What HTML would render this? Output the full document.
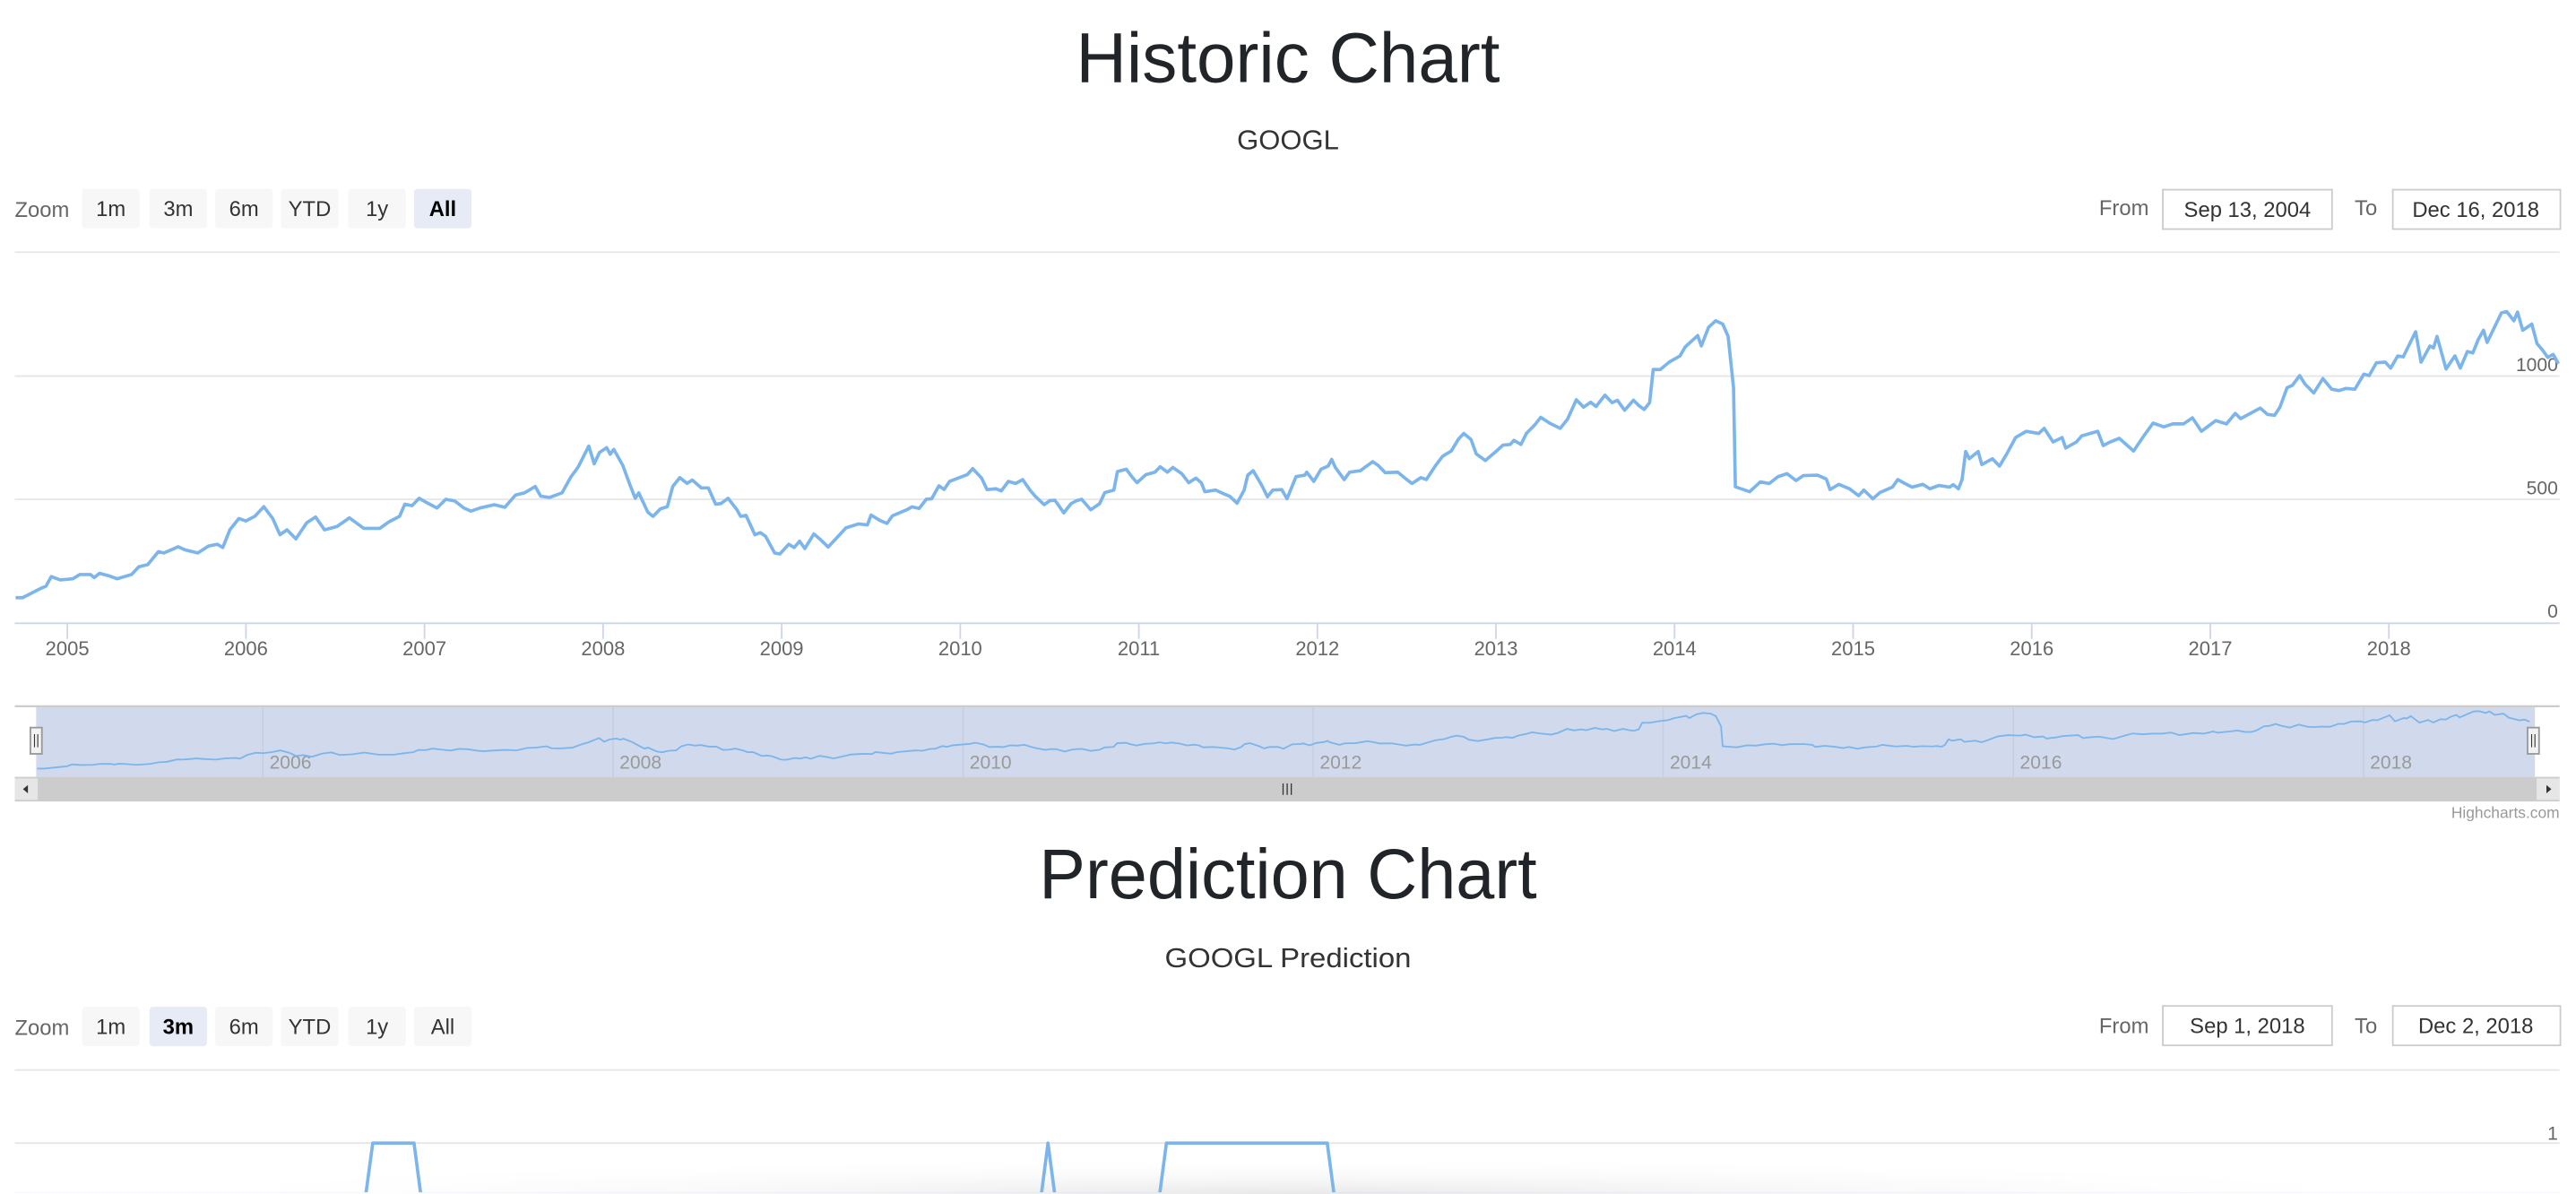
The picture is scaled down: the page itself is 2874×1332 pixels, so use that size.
<!DOCTYPE html>
<html><head><meta charset="utf-8">
<style>
html,body{margin:0;padding:0;background:#fff;width:2874px;height:1332px;overflow:hidden}
svg{display:block}
text{font-family:"Liberation Sans",sans-serif}
</style></head>
<body>
<svg id="root" width="2874" height="1332" viewBox="0 0 1568 727" preserveAspectRatio="none" xmlns="http://www.w3.org/2000/svg">
<defs>
<radialGradient id="shadow" cx="0.5" cy="1" r="0.6">
<stop offset="0" stop-color="#e8e8e8"/><stop offset="1" stop-color="#ffffff" stop-opacity="0"/>
</radialGradient>
<clipPath id="histClip"><rect x="9" y="153" width="1549" height="227"/></clipPath>
<clipPath id="navClip"><rect x="22" y="430" width="1521" height="43"/></clipPath>
<clipPath id="predClip"><rect x="9" y="652" width="1549" height="74"/></clipPath>
</defs>

<text x="784" y="50" text-anchor="middle" font-size="43" fill="#212529" textLength="258" lengthAdjust="spacingAndGlyphs">Historic Chart</text>
<text x="784" y="91" text-anchor="middle" font-size="16.5" fill="#333" textLength="62" lengthAdjust="spacingAndGlyphs">GOOGL</text>

<g>
<text x="9" y="132" font-size="13" fill="#666">Zoom</text>
<g id="histButtons"></g>
<text x="1308" y="131" font-size="13" fill="#666" text-anchor="end">From</text>
<rect x="1316.5" y="115.5" width="103" height="24" fill="#fff" stroke="#ccc"/>
<text x="1368" y="132" font-size="13" fill="#333" text-anchor="middle">Sep 13, 2004</text>
<text x="1447" y="131" font-size="13" fill="#666" text-anchor="end">To</text>
<rect x="1456.5" y="115.5" width="102" height="24" fill="#fff" stroke="#ccc"/>
<text x="1507" y="132" font-size="13" fill="#333" text-anchor="middle">Dec 16, 2018</text>
</g>

<g id="histChart"></g>

<text x="1558" y="498" font-size="9.5" fill="#999" text-anchor="end">Highcharts.com</text>

<text x="784" y="547" text-anchor="middle" font-size="43" fill="#212529" textLength="303" lengthAdjust="spacingAndGlyphs">Prediction Chart</text>
<text x="784" y="589" text-anchor="middle" font-size="16.5" fill="#333" textLength="150" lengthAdjust="spacingAndGlyphs">GOOGL Prediction</text>

<g>
<text x="9" y="630" font-size="13" fill="#666">Zoom</text>
<g id="predButtons"></g>
<text x="1308" y="629" font-size="13" fill="#666" text-anchor="end">From</text>
<rect x="1316.5" y="612.5" width="103" height="24" fill="#fff" stroke="#ccc"/>
<text x="1368" y="629" font-size="13" fill="#333" text-anchor="middle">Sep 1, 2018</text>
<text x="1447" y="629" font-size="13" fill="#666" text-anchor="end">To</text>
<rect x="1456.5" y="612.5" width="102" height="24" fill="#fff" stroke="#ccc"/>
<text x="1507" y="629" font-size="13" fill="#333" text-anchor="middle">Dec 2, 2018</text>
</g>

<rect x="170" y="690" width="1230" height="37" fill="url(#shadow)"/>
<g id="predChart"></g>
</svg>

<script>
// ---- Historic data (decimal year, price) ----
const histYears = [2004.71,2004.75,2004.85,2004.88,2004.91,2004.96,2005.03,2005.07,2005.13,2005.15,2005.18,2005.23,2005.28,2005.36,2005.40,2005.45,2005.51,2005.54,2005.59,2005.62,2005.66,2005.73,2005.79,2005.84,2005.87,2005.91,2005.96,2006.00,2006.05,2006.10,2006.15,2006.19,2006.23,2006.28,2006.34,2006.39,2006.44,2006.51,2006.58,2006.66,2006.75,2006.80,2006.86,2006.89,2006.93,2006.97,2007.01,2007.07,2007.12,2007.17,2007.22,2007.26,2007.31,2007.39,2007.45,2007.51,2007.56,2007.62,2007.65,2007.70,2007.77,2007.82,2007.86,2007.92,2007.95,2007.98,2008.02,2008.04,2008.06,2008.11,2008.15,2008.18,2008.20,2008.25,2008.28,2008.32,2008.36,2008.39,2008.43,2008.47,2008.50,2008.55,2008.59,2008.63,2008.66,2008.70,2008.75,2008.77,2008.80,2008.85,2008.88,2008.91,2008.96,2008.99,2009.04,2009.07,2009.10,2009.13,
2009.18,2009.22,2009.26,2009.32,2009.36,2009.43,2009.48,2009.50,2009.55,2009.59,2009.62,2009.70,2009.73,2009.77,2009.81,2009.84,2009.88,2009.91,2009.94,2010.01,2010.04,2010.07,2010.12,2010.15,2010.20,2010.23,2010.27,2010.31,2010.35,2010.39,2010.42,2010.47,2010.50,2010.53,2010.55,2010.58,2010.62,2010.65,2010.68,2010.73,2010.78,2010.81,2010.86,2010.88,2010.93,2010.96,2010.99,2011.04,2011.09,2011.12,2011.16,2011.19,2011.24,2011.28,2011.32,2011.35,2011.37,2011.43,2011.47,2011.51,2011.55,2011.59,2011.61,2011.64,2011.69,2011.72,2011.75,2011.80,2011.83,2011.88,2011.93,2011.94,2011.98,2012.02,2012.06,2012.08,2012.10,2012.15,2012.18,2012.24,2012.31,2012.34,2012.38,2012.45,2012.50,2012.53,2012.58,2012.61,2012.66,2012.70,2012.75,2012.79,2012.82,2012.86,2012.89,2012.94,2013.00,2013.04,2013.08,2013.10,2013.14,2013.17,2013.22,2013.25,2013.30,2013.36,2013.40,2013.45,2013.49,2013.53,2013.56,2013.61,2013.65,2013.68,2013.72,2013.77,2013.80,2013.83,2013.86,2013.88,2013.92,2013.97,
2014.03,2014.06,2014.13,2014.15,2014.19,2014.23,2014.27,2014.30,2014.33,2014.34,2014.42,2014.48,2014.53,2014.58,2014.63,2014.68,2014.72,2014.80,2014.85,2014.87,2014.92,2014.98,2015.03,2015.06,2015.11,2015.15,2015.22,2015.25,2015.29,2015.33,2015.39,2015.43,2015.48,2015.54,2015.56,2015.59,2015.61,2015.63,2015.65,2015.70,2015.72,2015.78,2015.82,2015.86,2015.91,2015.97,2016.04,2016.07,2016.12,2016.17,2016.19,2016.25,2016.28,2016.37,2016.40,2016.44,2016.49,2016.57,2016.63,2016.68,2016.74,2016.79,2016.85,2016.90,2016.95,2017.03,2017.09,2017.14,2017.17,2017.24,2017.28,2017.32,2017.36,2017.39,2017.43,2017.46,2017.50,2017.53,2017.58,2017.63,2017.68,2017.72,2017.76,2017.81,2017.86,2017.89,2017.93,2017.98,2018.01,2018.05,2018.08,2018.15,2018.18,2018.23,2018.25,2018.27,2018.32,2018.37,2018.40,2018.44,2018.47,2018.50,2018.53,2018.55,2018.63,2018.66,2018.70,2018.72,2018.75,2018.80,2018.83,2018.86,2018.89,2018.92,2018.95];
const histVals = [101,101,138,147,186,173,177,195,195,182,199,190,177,195,226,235,287,282,297,307,295,282,310,317,304,376,422,412,431,470,422,356,376,339,405,428,376,389,425,382,382,408,431,480,474,504,487,465,500,493,465,452,465,478,467,517,526,552,513,507,526,591,631,716,644,690,709,683,703,637,559,504,526,448,431,461,470,552,588,565,578,546,546,480,483,504,457,431,435,356,365,350,282,278,317,304,330,300,
359,335,306,353,384,400,396,436,414,402,433,457,469,463,500,502,555,540,573,592,600,625,586,539,543,534,573,564,580,537,512,478,494,496,476,445,482,494,500,457,482,527,537,613,622,592,567,600,610,632,610,629,604,567,586,567,531,537,524,512,484,537,598,616,555,510,537,539,502,592,598,610,573,622,635,662,629,580,610,616,653,637,608,610,580,564,588,580,635,674,696,745,767,743,684,657,694,720,723,739,723,767,804,833,809,788,825,904,874,894,877,923,892,902,861,902,880,865,892,1027,1027,1057,
1082,1119,1165,1123,1198,1225,1211,1161,953,551,531,571,564,592,604,576,596,598,582,539,561,543,515,537,502,527,549,580,564,549,561,543,556,549,559,543,580,694,665,694,641,665,635,684,751,776,767,788,733,751,708,733,757,776,718,733,747,696,760,809,794,806,806,831,776,819,806,849,827,855,870,845,841,874,953,963,1002,968,931,990,947,941,950,947,1008,1002,1054,1057,1033,1082,1078,1180,1057,1122,1115,1161,1029,1082,1033,1100,1094,1149,1186,1137,1257,1262,1225,1260,1186,1211,1131,1106,1076,1088,1050];
const histYTicks = [0,500,1000];
const histXTicks = [2005,2006,2007,2008,2009,2010,2011,2012,2013,2014,2015,2016,2017,2018];
const navXTicks = [2006,2008,2010,2012,2014,2016,2018];
const zoomButtons = ['1m','3m','6m','YTD','1y','All'];

// ---- Prediction data (days since Sep 1 2018, 0/1 signal) ----
const predDays = [0,12.70,12.95,14.44,14.68,37.13,37.37,37.61,41.41,41.65,47.47,47.71,92];
const predVals = [0,0,1,1,0,0,1,0,0,1,1,0,0];
const predYTicks = [1];

const NS='http://www.w3.org/2000/svg';
function mk(tag, attrs, parent){const e=document.createElementNS(NS,tag);for(const k in attrs)e.setAttribute(k,attrs[k]);parent.appendChild(e);return e;}

// axes
const hx = y => 41 + (y-2005)*108.7;
const hy = v => 379 - v*0.15;
const nx = y => 160 + (y-2006)*106.55;
const ny = v => 468 - (v-100)*35/1162;
const px = d => 9 + d*16.83;
const py = v => 727 - v*31;

function buttons(gid, sel, y){
  const g=document.getElementById(gid);
  const xs=[50,91,131,171,212,252];
  zoomButtons.forEach((b,i)=>{
    const r=mk('rect',{x:xs[i],y:y,width:35,height:24,rx:2,fill:i===sel?'#e6ebf5':'#f7f7f7'},g);
    
    
    const t=mk('text',{x:xs[i]+17.5,y:y+16.5,'font-size':13,'text-anchor':'middle',fill:i===sel?'#000':'#333','font-weight':i===sel?'bold':'normal'},g);
    t.textContent=b;
    
    
  });
}
buttons('histButtons',5,115);
buttons('predButtons',1,613);

// historic chart
const hc=document.getElementById('histChart');
let l=mk('line',{x1:9,x2:1558,y1:153.5,y2:153.5,stroke:'#e6e6e6'},hc);


histYTicks.forEach(v=>{
  if(v>0){const g=mk('line',{x1:9,x2:1558,y1:hy(v),y2:hy(v),stroke:'#e6e6e6'},hc);
  
  }
  const t=mk('text',{x:1557,y:hy(v)-3,'font-size':11.5,fill:'#666','text-anchor':'end'},hc);
  t.textContent=v;
  
  
});
l=mk('line',{x1:9,x2:1558,y1:379.5,y2:379.5,stroke:'#ccd6eb'},hc);


histXTicks.forEach(y=>{
  const tk=mk('line',{x1:hx(y),x2:hx(y),y1:380,y2:389,stroke:'#ccd6eb'},hc);
  
  
  const t=mk('text',{x:hx(y),y:399,'font-size':12,fill:'#666','text-anchor':'middle'},hc);
  t.textContent=y;
  
  
});
let d=histYears.map((y,i)=>(i?'L':'M')+hx(y).toFixed(1)+','+hy(histVals[i]).toFixed(1)).join('');
let p=mk('path',{d:d,fill:'none',stroke:'#7cb5ec','stroke-width':2,'stroke-linejoin':'round','clip-path':'url(#histClip)'},hc);



// navigator
const nav=mk('g',{},hc);


let r=mk('rect',{x:22,y:430,width:1521,height:43,fill:'rgba(102,133,194,0.3)'},nav);


navXTicks.forEach(y=>{
  const g=mk('line',{x1:nx(y),x2:nx(y),y1:430,y2:473,stroke:'#c6cde0','stroke-width':0.8},nav);
  
  
  const t=mk('text',{x:nx(y)+4,y:468,'font-size':11.5,fill:'#999'},nav);
  t.textContent=y;
  
  
});
d=histYears.map((y,i)=>(i?'L':'M')+nx(y).toFixed(1)+','+ny(histVals[i]).toFixed(1)).join('');
p=mk('path',{d:d,fill:'none',stroke:'#7cb5ec','stroke-width':1,'clip-path':'url(#navClip)'},nav);


l=mk('line',{x1:9,x2:1558,y1:430,y2:430,stroke:'#cccccc','stroke-width':1.2},nav);


[22,1542].forEach((x,i)=>{
  const h=mk('rect',{x:x-3.5,y:443,width:7,height:16,fill:'#f2f2f2',stroke:'#999'},nav);
  
  
  mk('line',{x1:x-1,x2:x-1,y1:447,y2:455,stroke:'#333','stroke-width':0.6},nav);
  mk('line',{x1:x+1,x2:x+1,y1:447,y2:455,stroke:'#333','stroke-width':0.6},nav);
});
r=mk('rect',{x:9,y:473,width:1549,height:15,fill:'#cccccc'},nav);


[[9,'scrollbar-left-button'],[1544,'scrollbar-right-button']].forEach(([x,n],i)=>{
  const b=mk('rect',{x:x,y:474,width:14,height:13,fill:'#e6e6e6'},nav);
  
  
  mk('path',{d:i?`M${x+6},478L${x+9},480.5L${x+6},483Z`:`M${x+8},478L${x+5},480.5L${x+8},483Z`,fill:'#333'},nav);
});
[781,783.5,786].forEach(x=>mk('line',{x1:x,x2:x,y1:477,y2:484,stroke:'#333','stroke-width':0.7},nav));

// prediction chart
const pc=document.getElementById('predChart');
l=mk('line',{x1:9,x2:1558,y1:651.5,y2:651.5,stroke:'#e6e6e6'},pc);


predYTicks.forEach(v=>{
  const g=mk('line',{x1:9,x2:1558,y1:py(v),y2:py(v),stroke:'#e6e6e6'},pc);
  
  
  const t=mk('text',{x:1557,y:py(v)-2,'font-size':11.5,fill:'#666','text-anchor':'end'},pc);
  t.textContent=v;
  
  
});
d=predDays.map((x,i)=>(i?'L':'M')+px(x).toFixed(1)+','+py(predVals[i]).toFixed(1)).join('');
p=mk('path',{d:d,fill:'none',stroke:'#7cb5ec','stroke-width':2,'stroke-linejoin':'round','clip-path':'url(#predClip)'},pc);


</script>
</body></html>
